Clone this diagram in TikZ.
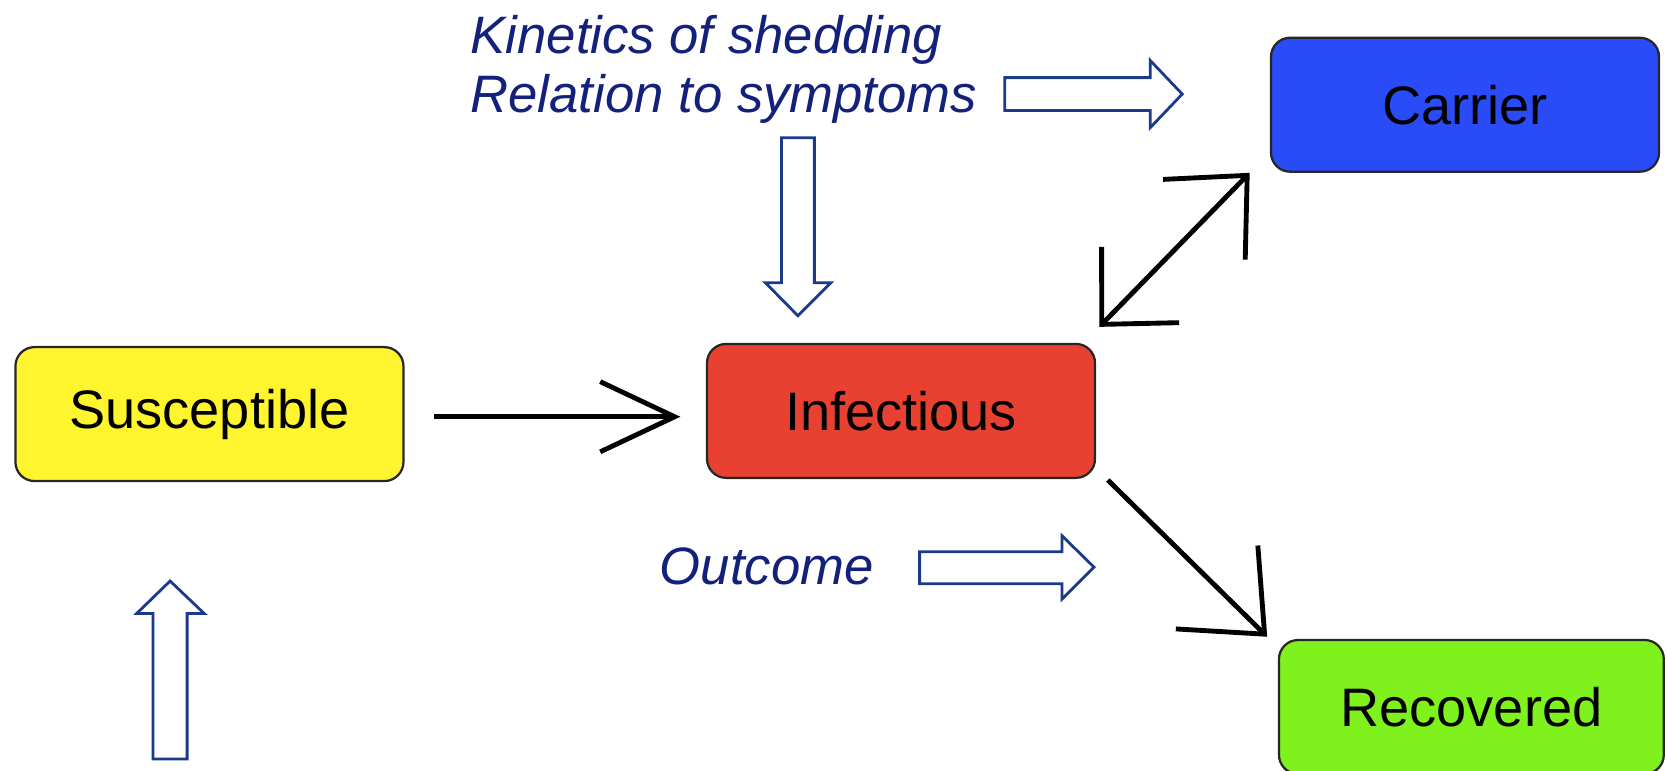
\documentclass[tikz,border=0pt]{standalone}
\usepackage{fontspec}
\setmainfont{Liberation Sans}
\usetikzlibrary{arrows.meta}
\definecolor{syel}{RGB}{255,245,47}
\definecolor{ired}{RGB}{232,65,50}
\definecolor{cblue}{RGB}{42,75,248}
\definecolor{rgreen}{RGB}{127,242,30}
\definecolor{navy}{RGB}{20,33,122}
\definecolor{arrowblue}{RGB}{27,58,140}
\begin{document}
\begin{tikzpicture}[x=1cm,y=1cm,
  box/.style={draw=black!85, line width=0.6pt, rounded corners=0.18cm,
    minimum width=3.65cm, minimum height=1.26cm, inner sep=0pt,
    font=\fontsize{14.5}{17}\selectfont, text=black},
  note/.style={text=navy, font=\fontsize{14.1}{17}\selectfont\itshape,
    inner sep=0pt, anchor=base west},
  conn/.style={line width=1.3pt, black},
  blockarrow/.style={draw=arrowblue, fill=white, line width=0.75pt, line join=miter}
]
\useasboundingbox (0,0) rectangle (15.68,-7.25);

% boxes
\node[box, fill=syel] (S) at (1.97,-3.895) {Susceptible};
\node[box, fill=ired] (I) at (8.475,-3.865) {Infectious};
\node[box, fill=cblue] (C) at (13.78,-0.985) {Carrier};
\node[box, fill=rgreen, minimum width=3.62cm] (R) at (13.84,-6.65) {Recovered};

% notes
\node[note] (k) at (4.42,-0.50) {Kinetics of shedding};
\node[note] (r) at (4.42,-1.06) {Relation to symptoms};
\node[note] (o) at (6.20,-5.50) {Outcome};

% connectors
\draw[conn, -{Straight Barb[length=0.7cm,width=0.66cm]}]
  ([xshift=0.28cm,yshift=-0.025cm]S.east) -- ([xshift=-0.24cm,yshift=-0.055cm]I.west);
\draw[conn, {Straight Barb[length=0.52cm,width=1.02cm]}-{Straight Barb[length=0.58cm,width=1.08cm]}]
  ([xshift=0.03cm,yshift=0.15cm]I.north east) -- ([xshift=-0.19cm]C.south west);
\draw[conn, -{Straight Barb[length=0.63cm,width=1.1cm]}]
  ([xshift=0.11cm,yshift=-0.01cm]I.south east) -- ([xshift=-0.10cm,yshift=0.02cm]R.north west);

% block arrows
\draw[blockarrow] (9.45,-0.73) -- (10.82,-0.73) -- (10.82,-0.57) -- (11.12,-0.885)
  -- (10.82,-1.20) -- (10.82,-1.04) -- (9.45,-1.04) -- cycle;
\draw[blockarrow] (7.35,-1.295) -- (7.66,-1.295) -- (7.66,-2.66) -- (7.815,-2.66)
  -- (7.505,-2.97) -- (7.20,-2.66) -- (7.35,-2.66) -- cycle;
\draw[blockarrow] (8.65,-5.19) -- (9.99,-5.19) -- (9.99,-5.04) -- (10.29,-5.335)
  -- (9.99,-5.635) -- (9.99,-5.49) -- (8.65,-5.49) -- cycle;
\draw[blockarrow] (1.44,-7.14) -- (1.44,-5.77) -- (1.286,-5.77) -- (1.60,-5.465)
  -- (1.92,-5.77) -- (1.76,-5.77) -- (1.76,-7.14) -- cycle;
\end{tikzpicture}
\end{document}
